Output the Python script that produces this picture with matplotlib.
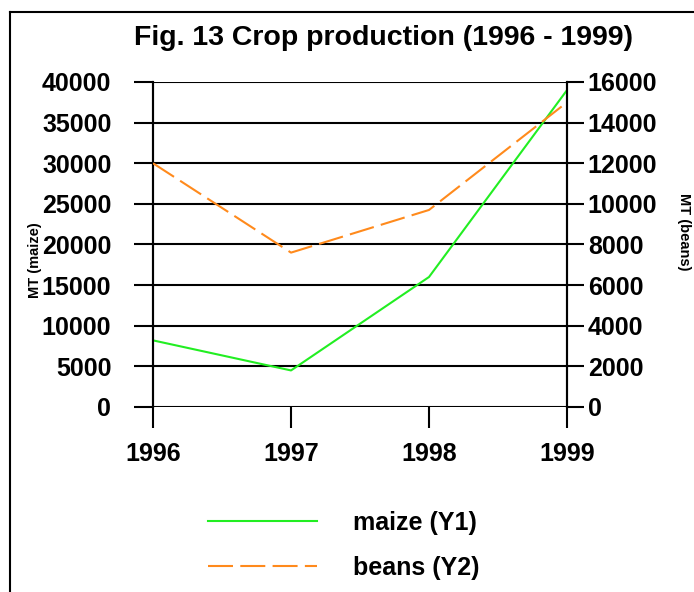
import matplotlib
matplotlib.use('Agg')
import matplotlib.pyplot as plt
from matplotlib.lines import Line2D

years = [1996, 1997, 1998, 1999]
maize = [8200, 4500, 16000, 39000]
beans = [12000, 7600, 9700, 15000]
left_ticks = [0, 5000, 10000, 15000, 20000, 25000, 30000, 35000, 40000]
right_ticks = [0, 2000, 4000, 6000, 8000, 10000, 12000, 14000, 16000]

plt.rcParams['font.family'] = ['Liberation Sans', 'DejaVu Sans']
plt.rcParams['font.weight'] = 'bold'

fig = plt.figure(figsize=(6.94, 5.92), dpi=100)
ax = fig.add_axes([0.2205, 0.3125, 0.5965, 0.549])
ax2 = ax.twinx()

green = '#22ee22'
orange = '#ff8a1c'

ax.plot(years, maize, color=green, lw=1.5, zorder=3)
ax2.plot(years, beans, color=orange, lw=1.5, dashes=(12, 3.5), zorder=3)

ax.set_xlim(1996, 1999)
ax.set_ylim(0, 40000)
ax2.set_ylim(0, 16000)
ax.set_yticks(left_ticks)
ax2.set_yticks(right_ticks)
ax.set_xticks(years)

for a in (ax, ax2):
    for s in ('top', 'bottom'):
        a.spines[s].set_visible(False)
    a.spines['left'].set_linewidth(1.5)
    a.spines['right'].set_linewidth(1.5)

ax.grid(axis='y', color='black', lw=1.5)
ax.set_axisbelow(True)
ax.tick_params(axis='y', direction='out', length=14, width=1.5, pad=16, labelsize=18)
ax.tick_params(axis='x', direction='out', length=15, width=1.5, pad=10, labelsize=18)
ax2.tick_params(axis='y', direction='out', length=12, width=1.5, pad=3, labelsize=18)
for lab in ax.get_yticklabels() + ax2.get_yticklabels() + ax.get_xticklabels():
    lab.set_fontweight('bold')

fig.text(35 / 694, 1 - 260 / 592, 'MT (maize)', rotation=90, ha='center', va='center',
         fontsize=10.5, fontweight='bold')
fig.text(684 / 694, 1 - 232 / 592, 'MT (beans)', rotation=-90, ha='center', va='center',
         fontsize=10.5, fontweight='bold')

fig.text(383 / 694, 1 - 38 / 592, 'Fig. 13 Crop production (1996 - 1999)', ha='center',
         va='center', fontsize=20.5, fontweight='bold')

# legend drawn by hand to match the original placement
fig.add_artist(Line2D([208 / 694, 317 / 694], [1 - 521 / 592] * 2, color=green, lw=1.5))
fig.add_artist(Line2D([208 / 694, 317 / 694], [1 - 566 / 592] * 2, color=orange, lw=1.5,
                      dashes=(12, 3.5)))
fig.text(353 / 694, 1 - 523 / 592, 'maize (Y1)', va='center', fontsize=18, fontweight='bold')
fig.text(353 / 694, 1 - 568 / 592, 'beans (Y2)', va='center', fontsize=18, fontweight='bold')

# outer frame (top and left only)
fig.add_artist(Line2D([10 / 694, 1], [1 - 12 / 592] * 2, color='black', lw=1.5))
fig.add_artist(Line2D([10 / 694] * 2, [0, 1 - 12 / 592], color='black', lw=1.5))

fig.savefig('out.png', dpi=100)
